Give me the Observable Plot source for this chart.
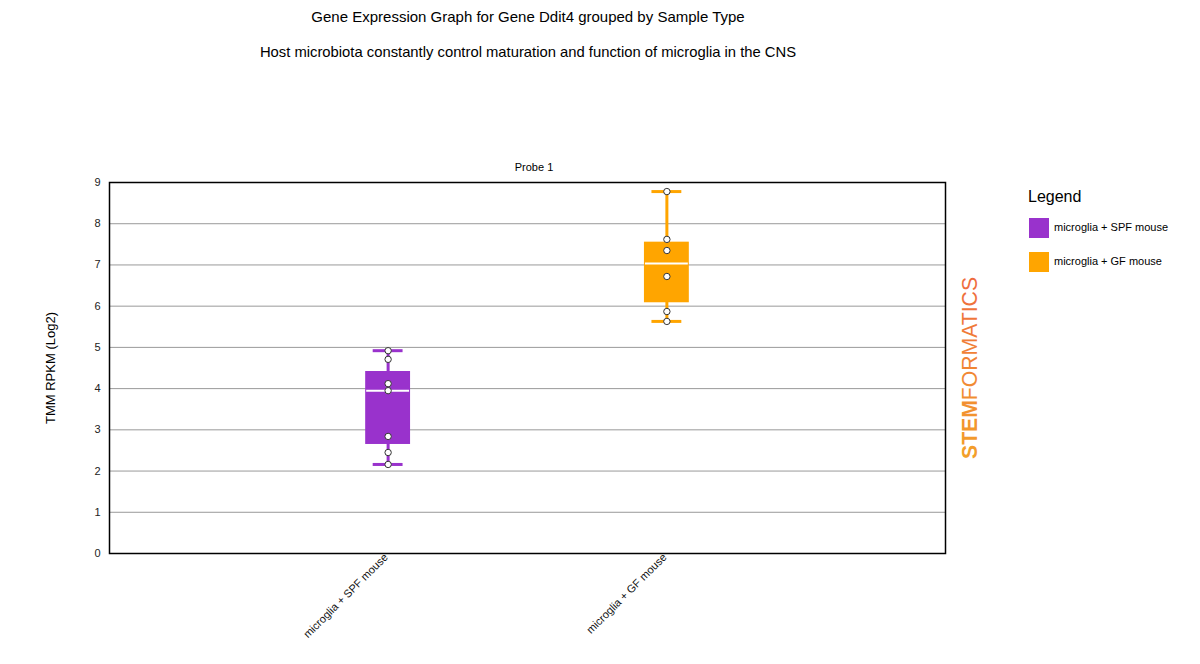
<!DOCTYPE html>
<html>
<head>
<meta charset="utf-8">
<script src="https://cdn.jsdelivr.net/npm/d3@7"></script>
<script src="https://cdn.jsdelivr.net/npm/@observablehq/plot@0.6"></script>
<style>
  html, body { margin: 0; padding: 0; background: #fff; }
  #chart svg { display: block; }
</style>
</head>
<body>
<div id="chart"></div>
<script>
// ---- data ----
const groups = ["microglia + SPF mouse", "microglia + GF mouse"];
const groupColors = ["#9932CC", "#FFA500"];
const spfValues = [4.92, 4.71, 4.12, 3.95, 2.84, 2.45, 2.16];
const gfValues = [8.78, 7.62, 7.35, 6.72, 5.87, 5.63];
const yTicks = [0, 1, 2, 3, 4, 5, 6, 7, 8, 9];
const titleText = "Gene Expression Graph for Gene Ddit4 grouped by Sample Type";
const subtitleText = "Host microbiota constantly control maturation and function of microglia in the CNS";
const probeText = "Probe 1";
const yLabelText = "TMM RPKM (Log2)";

// ---- derived tables ----
const valueLists = [spfValues, gfValues];
const samples = groups.flatMap((g, i) => valueLists[i].map(v => ({group: g, value: v})));
const stats = groups.map((g, i) => {
  const s = valueLists[i].slice().sort(d3.ascending);
  return {
    group: g,
    min: d3.min(s), max: d3.max(s),
    q1: d3.quantile(s, 0.25), median: d3.quantile(s, 0.5), q3: d3.quantile(s, 0.75)
  };
});

const font = "'Liberation Sans', Arial, sans-serif";

const chart = Plot.plot({
  width: 1200,
  height: 664,
  marginLeft: 109,
  marginRight: 255,
  marginTop: 182,
  marginBottom: 111,
  style: {fontFamily: font, fontSize: "11px", color: "#000", background: "#fff"},
  x: {domain: groups, paddingInner: 0.839, paddingOuter: 0.919, round: false, label: null},
  y: {domain: [0, 9], label: null},
  color: {domain: groups, range: groupColors},
  marks: [
    Plot.gridY(yTicks.slice(1, -1), {stroke: "#999", strokeOpacity: 1, strokeWidth: 1}),
    Plot.axisY(yTicks, {tickSize: 0, tickPadding: 9, label: null, fontSize: 11, fill: "#222"}),
    Plot.axisX(groups, {tickSize: 0, tickRotate: -45, tickPadding: 2, dx: -2, label: null, fontSize: 11, fill: "#111"}),
    Plot.ruleX(stats, {x: "group", y1: "min", y2: "max", stroke: "group", strokeWidth: 3}),
    Plot.barY(stats, {x: "group", y1: "q1", y2: "q3", fill: "group"}),
    Plot.tickY(stats, {x: "group", y: "median", stroke: "white", strokeWidth: 2, insetLeft: 1, insetRight: 1}),
    Plot.tickY(stats, {x: "group", y: "min", stroke: "group", strokeWidth: 3, insetLeft: 7.5, insetRight: 7.5}),
    Plot.tickY(stats, {x: "group", y: "max", stroke: "group", strokeWidth: 3, insetLeft: 7.5, insetRight: 7.5}),
    Plot.dot(samples, {x: "group", y: "value", r: 3.2, fill: "white", stroke: "#333", strokeWidth: 1}),
    Plot.frame({stroke: "#000", strokeWidth: 1.5})
  ]
});

document.getElementById("chart").appendChild(chart);

// ---- titles, legend, logo ----
const svg = d3.select(chart);
const g = svg.append("g").style("font-family", font).attr("text-anchor", "start");

g.append("text").attr("x", 528).attr("y", 22).attr("text-anchor", "middle")
  .attr("font-size", 15).attr("fill", "#000").text(titleText);
g.append("text").attr("x", 528).attr("y", 57).attr("text-anchor", "middle")
  .attr("font-size", 14.8).attr("fill", "#000").text(subtitleText);
g.append("text").attr("x", 534).attr("y", 171).attr("text-anchor", "middle")
  .attr("font-size", 11).attr("fill", "#000").text(probeText);
g.append("text").attr("transform", "translate(55,368) rotate(-90)").attr("text-anchor", "middle")
  .attr("font-size", 13).attr("fill", "#000").text(yLabelText);

// legend
g.append("text").attr("x", 1028).attr("y", 202).attr("text-anchor", "start")
  .attr("font-size", 16).attr("fill", "#000").text("Legend");
groups.forEach((name, i) => {
  const y0 = 218 + i * 34;
  g.append("rect").attr("x", 1029).attr("y", y0).attr("width", 20).attr("height", 20).attr("fill", groupColors[i]);
  g.append("text").attr("x", 1054).attr("y", y0 + 13).attr("text-anchor", "start")
    .attr("font-size", 11).attr("fill", "#000").text(name);
});

// logo
const defs = svg.append("defs");
const grad = defs.append("linearGradient").attr("id", "logoGrad")
  .attr("x1", "0").attr("y1", "0").attr("x2", "1").attr("y2", "0");
grad.append("stop").attr("offset", "0%").attr("stop-color", "#f3a02a");
grad.append("stop").attr("offset", "100%").attr("stop-color", "#ee6a3e");
const logo = g.append("text").attr("transform", "translate(977,368) rotate(-90)")
  .attr("text-anchor", "middle").attr("font-size", 22).attr("fill", "url(#logoGrad)")
  .attr("textLength", 182).attr("lengthAdjust", "spacingAndGlyphs");
logo.append("tspan").attr("font-weight", "bold").text("STEM");
logo.append("tspan").text("FORMATICS");
</script>
</body>
</html>
